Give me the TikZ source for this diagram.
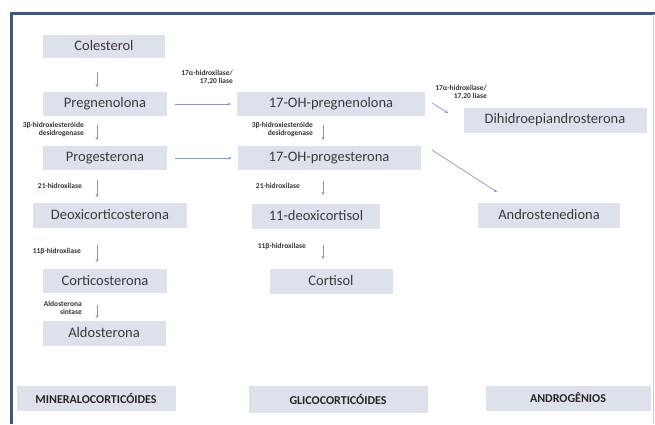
\documentclass[tikz,border=0pt]{standalone}
\usepackage{fontspec}
\setmainfont{Carlito}
\usetikzlibrary{arrows.meta}
\definecolor{boxfill}{HTML}{DDE1EC}
\definecolor{txt}{HTML}{3A3A3A}
\definecolor{arr}{HTML}{8A9AB8}
\definecolor{frame}{HTML}{41557F}
\tikzset{
  box/.style={fill=boxfill, draw=none, inner sep=0pt, text=txt, font=\fontsize{14.5}{16}\selectfont},
  catbox/.style={fill=boxfill, draw=none, inner sep=0pt, text=black!85, font=\fontsize{12}{14}\selectfont\bfseries},
  enz/.style={text=black!80, font=\fontsize{7.5}{8.5}\selectfont\bfseries, inner sep=0pt, align=right},
  conn/.style={draw=arr, line width=0.7pt, -{Stealth[length=3pt,width=3pt]}},
}
\begin{document}
\begin{tikzpicture}[x=1pt,y=-1pt]
\useasboundingbox (0,0) rectangle (655,424);
\fill[white] (0,0) rectangle (655,424);
\draw[frame, line width=3pt] (11,424) -- (11,13) -- (655,13);
\draw[frame!30, line width=1pt] (653,14) -- (653,424);
% left column
\node[box, minimum width=122pt, minimum height=23pt] (col) at (104,46) {Colesterol};
\node[box, minimum width=124pt, minimum height=24pt] (preg) at (105,104) {Pregnenolona};
\node[box, minimum width=124pt, minimum height=24pt] (prog) at (105,158) {Progesterona};
\node[box, minimum width=154pt, minimum height=25pt] (doc) at (110,215) {Deoxicorticosterona};
\node[box, minimum width=124pt, minimum height=24pt] (cort) at (105,281) {Corticosterona};
\node[box, minimum width=123pt, minimum height=25pt] (aldo) at (104,333) {Aldosterona};
% middle column
\node[box, minimum width=188pt, minimum height=24pt] (ohpreg) at (331,104) {17-OH-pregnenolona};
\node[box, minimum width=183pt, minimum height=24pt] (ohprog) at (329,158) {17-OH-progesterona};
\node[box, minimum width=128pt, minimum height=25pt] (deoxc) at (316,216) {11-deoxicortisol};
\node[box, minimum width=123pt, minimum height=25pt] (cortisol) at (331,281) {Cortisol};
% right column
\node[box, minimum width=183pt, minimum height=25pt] (dhea) at (555,120) {Dihidroepiandrosterona};
\node[box, minimum width=142pt, minimum height=25pt] (andro) at (549,215) {Androstenediona};
% categories
\node[catbox, minimum width=159pt, minimum height=25pt] (mineral) at (96,398) {MINERALOCORTICÓIDES};
\node[catbox, minimum width=179pt, minimum height=27pt] (glico) at (338,399) {GLICOCORTICÓIDES};
\node[catbox, minimum width=165pt, minimum height=25pt] (androg) at (568,398) {ANDROGÊNIOS};
% arrows
\coordinate (a1s) at (97,72); \coordinate (a1e) at (97,87);
\draw[conn] (a1s) -- (a1e);
\coordinate (a2s) at (97,125); \coordinate (a2e) at (97,140);
\draw[conn] (a2s) -- (a2e);
\coordinate (a3s) at (97,180); \coordinate (a3e) at (97,197);
\draw[conn] (a3s) -- (a3e);
\coordinate (a4s) at (97,245); \coordinate (a4e) at (97,262);
\draw[conn] (a4s) -- (a4e);
\coordinate (a5s) at (97,305); \coordinate (a5e) at (97,318);
\draw[conn] (a5s) -- (a5e);
\draw[conn] ([xshift=8pt]preg.east) -- ([xshift=-6pt]ohpreg.west);
\draw[conn] ([xshift=8pt]prog.east) -- ([xshift=-6pt]ohprog.west);
\coordinate (b1s) at (323,125); \coordinate (b1e) at (323,140);
\draw[conn] (b1s) -- (b1e);
\coordinate (b2s) at (323,181); \coordinate (b2e) at (323,195);
\draw[conn] (b2s) -- (b2e);
\coordinate (b3s) at (323,245); \coordinate (b3e) at (323,259);
\draw[conn] (b3s) -- (b3e);
\coordinate (c1s) at (432,103); \coordinate (c1e) at (448,113);
\draw[conn] (c1s) -- (c1e);
\coordinate (c2s) at (432,150); \coordinate (c2e) at (497,192);
\draw[conn] (c2s) -- (c2e);
% enzyme labels
\node[enz, anchor=north east] (e1) at (233,70) {17α-hidroxilase/\\17,20 liase};
\node[enz, anchor=north east] (e2) at (84,122) {3β-hidroxiesteróide\\desidrogenase};
\node[enz, anchor=east] (e3) at (82,186) {21-hidroxilase};
\node[enz, anchor=east] (e4) at (81,251) {11β-hidroxilase};
\node[enz, anchor=north east] (e5) at (82,301) {Aldosterona\\sintase};
\node[enz, anchor=north east] (e6) at (313,122) {3β-hidroxiesteróide\\desidrogenase};
\node[enz, anchor=east] (e7) at (300,186) {21-hidroxilase};
\node[enz, anchor=east] (e8) at (306,246) {11β-hidroxilase};
\node[enz, anchor=north east] (e9) at (487,85) {17α-hidroxilase/\\17,20 liase};
\end{tikzpicture}
\end{document}
